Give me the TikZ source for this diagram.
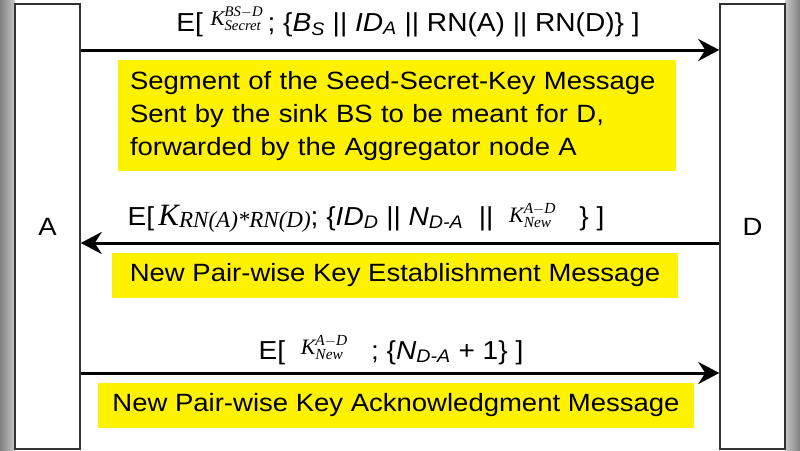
\documentclass[tikz,border=0pt]{standalone}
\usepackage{fontspec}
\usepackage{amsmath}
\setmainfont[FakeStretch=1.1]{Liberation Sans}
\newfontfamily\lblfont[FakeStretch=1.08]{Liberation Sans}
\newfontfamily\tnr{Liberation Serif}
\usetikzlibrary{arrows.meta,calc}
\newcommand\tk[1]{\text{\tnr\itshape #1}}
\newcommand\ai[1]{\text{\itshape #1}}
\newcommand\ksize[2]{{\fontsize{#1}{#1}\selectfont #2}}
\begin{document}
\begin{tikzpicture}[x=1pt,y=-1pt]
\tikzset{
 lane/.style={draw=black!80, line width=1.5pt, fill=white, minimum width=65pt, minimum height=445pt, inner sep=0pt, font=\fontsize{25}{30}\selectfont},
 msg/.style={line width=3pt, -{Stealth[length=21pt,width=22pt,inset=7pt]}},
 lbl/.style={inner sep=0pt, font=\lblfont\fontsize{26}{30}\selectfont},
 note/.style={fill=yellow, inner sep=0pt, font=\fontsize{25}{33}\selectfont}
}
\useasboundingbox (0,0) rectangle (800,450);
\fill[white] (0,0) rectangle (800,450);
\shade[left color=black!50, right color=black!22] (0,0) rectangle (15,450);
\shade[left color=black!22, right color=black!50] (785,0) rectangle (800,450);

\node[lane] (A) at (47.5,226.5) {A};
\node[lane] (D) at (752.5,226.5) {D};

\coordinate (y1) at (0,50);
\coordinate (y2) at (0,243);
\coordinate (y3) at (0,373);

\draw[msg] (A.east |- y1) -- (D.west |- y1);
\draw[msg] (D.west |- y2) -- (A.east |- y2);
\draw[msg] (A.east |- y3) -- (D.west |- y3);

\node[lbl, anchor=base] (m1) at (408,31) {E[ \ksize{21}{\raisebox{6pt}{$\tk{K}^{\tk{BS}-\tk{D}}_{\tk{Secret}}$}}\,; \{$\ai{B}_{\ai{S}}$ || $\ai{ID}_{\ai{A}}$ || RN(A) || RN(D)\} ]};

\node[lbl, anchor=base] (m2) at (366,225) {E[\,\ksize{31}{\tnr\itshape K}\ksize{23}{\tnr\itshape\raisebox{-2pt}{RN(A)*RN(D)}}; \{$\ai{ID}_{\ai{D}}$ || $\ai{N}_{\ai{D-A}}$\ \ ||\ \ \ksize{22}{\raisebox{3pt}{$\tk{K}^{\tk{A}-\tk{D}}_{\tk{New}}$}}\ \ \ \} ]};

\node[lbl, anchor=base] (m3) at (391,359) {E[\ \ \ksize{22}{\raisebox{5pt}{$\tk{K}^{\tk{A}-\tk{D}}_{\tk{New}}$}}\ \ \ ; \{$\ai{N}_{\ai{D-A}}$ + 1\} ]};

\node[note, minimum width=558pt, minimum height=111pt, text width=534pt, align=left] (n1) at (397,115.5)
 {\raisebox{-2pt}{\begin{tabular}{@{}l@{}}Segment of the Seed-Secret-Key Message\\Sent by the sink BS to be meant for D,\\forwarded by the Aggregator node A\end{tabular}}};
\node[note, minimum width=566pt, minimum height=45pt] (n2) at (395,275.5) {New Pair-wise Key Establishment Message};
\node[note, minimum width=596pt, minimum height=45pt] (n3) at (396,405.5) {New Pair-wise Key Acknowledgment Message};
\end{tikzpicture}
\end{document}
